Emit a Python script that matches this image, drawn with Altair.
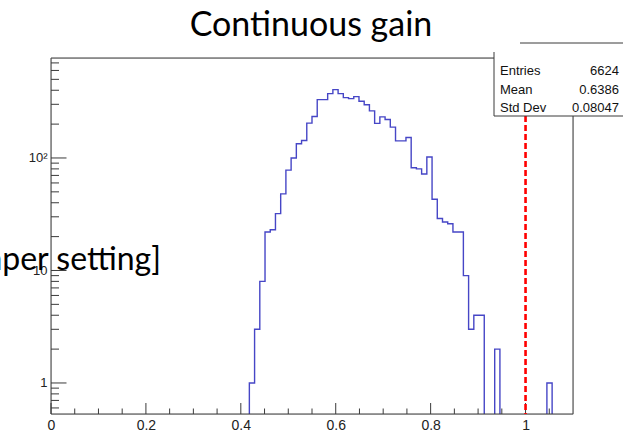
import altair as alt
import pandas as pd

# ---------------- data ----------------
bin_width = 0.011
n_bins = 100
first_bin = 38
counts_from_first = [1, 3, 8, 22, 23, 32, 48, 78, 100, 134, 143, 204, 234, 330, 330,
                     373, 405, 373, 344, 337, 351, 319, 297, 262, 203, 232, 220, 188,
                     142, 142, 152, 82, 80, 72, 102, 43, 29, 27, 26, 22, 22, 9, 3, 4, 4,
                     0, 0, 2, 0, 0, 0, 0, 0, 0, 0, 0, 0, 1]
x_major = [0.0, 0.2, 0.4, 0.6, 0.8, 1.0]
x_minor = [0.05, 0.1, 0.15, 0.25, 0.3, 0.35, 0.45, 0.5, 0.55, 0.65, 0.7, 0.75,
           0.85, 0.9, 0.95, 1.05]
y_major = [1, 10, 100]
y_minor = [0.6, 0.7, 0.8, 0.9, 2, 3, 4, 5, 6, 7, 8, 9,
           20, 30, 40, 50, 60, 70, 80, 90, 200, 300, 400, 500, 600, 700]
cut_value = [1.0]
stat_names = ["Entries", "Mean", "Std Dev"]
stat_values = ["6624", "0.6386", "0.08047"]
title_text = "Continuous gain"
side_text = "[damper setting]"

# ---------------- layout ----------------
W, H = 522, 356
PL, PT = 51, 58
xdom = [0.0, 1.1]
ydom = [0.53, 774]
floor = 0.2

counts = [0] * n_bins
for i, c in enumerate(counts_from_first):
    counts[first_bin + i] = c
edges = [round(i * bin_width, 4) for i in range(n_bins)] + [1.1]
vals = [c if c > 0 else floor for c in counts] + [floor]
hist_df = pd.DataFrame({"x": edges, "y": vals})

xs = alt.Scale(domain=xdom, nice=False, zero=False)
ys = alt.Scale(type="log", domain=ydom, nice=False)

xaxis = alt.Axis(
    values=x_major, format="~g", ticks=False, domain=False, grid=False,
    labelFontSize=14, labelFont="Liberation Sans", labelColor="#222",
    labelPadding=4, labelFlush=False, labelOverlap=False, title=None)
yaxis = alt.Axis(
    values=y_major, labelExpr="datum.value == 100 ? '10²' : datum.label",
    ticks=False, domain=False, grid=False,
    labelFontSize=13, labelFont="Liberation Sans", labelColor="#222",
    labelPadding=4, labelFlush=False, labelOverlap=False, title=None)

one = pd.DataFrame({"a": [0]})
FRAME = "#3a3a3a"


def hrule(x1, x2, y, color=FRAME, w=1):
    return alt.Chart(one).mark_rule(color=color, strokeWidth=w).encode(
        x=alt.value(x1), x2=alt.value(x2), y=alt.value(y))


def vrule(x, y1, y2, color=FRAME, w=1):
    return alt.Chart(one).mark_rule(color=color, strokeWidth=w).encode(
        x=alt.value(x), y=alt.value(y1), y2=alt.value(y2))


hist = alt.Chart(hist_df).mark_line(
    interpolate="step-after", clip=True, color="#4646c6", strokeWidth=1.4
).encode(
    x=alt.X("x:Q", scale=xs, axis=xaxis),
    y=alt.Y("y:Q", scale=ys, axis=yaxis),
    order=alt.Order("x:Q"),
)

xmaj = alt.Chart(pd.DataFrame({"x": x_major})).mark_rule(color=FRAME, strokeWidth=1).encode(
    x=alt.X("x:Q", scale=xs, axis=xaxis), y=alt.value(H), y2=alt.value(H - 11))
xmin = alt.Chart(pd.DataFrame({"x": x_minor})).mark_rule(color=FRAME, strokeWidth=1).encode(
    x=alt.X("x:Q", scale=xs, axis=xaxis), y=alt.value(H), y2=alt.value(H - 5.5))
ymaj = alt.Chart(pd.DataFrame({"y": y_major})).mark_rule(color=FRAME, strokeWidth=1).encode(
    y=alt.Y("y:Q", scale=ys, axis=yaxis), x=alt.value(0), x2=alt.value(15.5))
ymin = alt.Chart(pd.DataFrame({"y": y_minor})).mark_rule(color=FRAME, strokeWidth=1).encode(
    y=alt.Y("y:Q", scale=ys, axis=yaxis), x=alt.value(0), x2=alt.value(8))

frame = [
    hrule(0, W, H),
    vrule(0, 0, H),
    hrule(0, 443, 0),
]

box_bg = alt.Chart(one).mark_rect(color="white").encode(
    x=alt.value(443), x2=alt.value(W + 60), y=alt.value(-14), y2=alt.value(58))
box_lines = [
    vrule(443, -6, 58),
    hrule(443, W + 60, 58),
    hrule(469, W + 60, -15),
    vrule(W, 58, H),
]

cut = alt.Chart(pd.DataFrame({"x": cut_value})).mark_rule(
    color="#ff0000", strokeWidth=2.6, strokeDash=[6, 3]
).encode(x=alt.X("x:Q", scale=xs, axis=xaxis), y=alt.value(58), y2=alt.value(H))

stats_df = pd.DataFrame({"n": stat_names, "v": stat_values})
stat_l = alt.Chart(stats_df).transform_window(row="row_number()").transform_calculate(
    yy="-1.5 + 18.5 * datum.row"
).mark_text(
    font="Liberation Sans", fontSize=13, align="left", baseline="alphabetic", color="#111"
).encode(text="n:N", x=alt.value(449), y=alt.Y("yy:Q", scale=None, axis=None))
stat_r = alt.Chart(stats_df).transform_window(row="row_number()").transform_calculate(
    yy="-1.5 + 18.5 * datum.row"
).mark_text(
    font="Liberation Sans", fontSize=13, align="right", baseline="alphabetic", color="#111"
).encode(text="v:N", x=alt.value(568), y=alt.Y("yy:Q", scale=None, axis=None))

title = alt.Chart(pd.DataFrame({"t": [title_text]})).mark_text(
    font="Lato", fontSize=34, align="center", baseline="alphabetic", color="#000"
).encode(text="t:N", x=alt.value(260), y=alt.value(-22))

side = alt.Chart(pd.DataFrame({"t": [side_text]})).mark_text(
    font="Lato", fontSize=32, align="right", baseline="alphabetic", color="#000"
).encode(text="t:N", x=alt.value(110), y=alt.value(212))

chart = alt.layer(
    hist, *frame, xmaj, xmin, ymaj, ymin, cut, box_bg, *box_lines,
    stat_l, stat_r, title, side
).properties(
    width=W, height=H,
    padding={"left": PL, "top": PT, "right": 623 - PL - W, "bottom": 433 - PT - H},
    autosize=alt.AutoSizeParams(type="none"),
).configure_view(stroke=None).configure(background="white")

chart.save("out.html", embed_options={"renderer": "svg", "actions": False})
